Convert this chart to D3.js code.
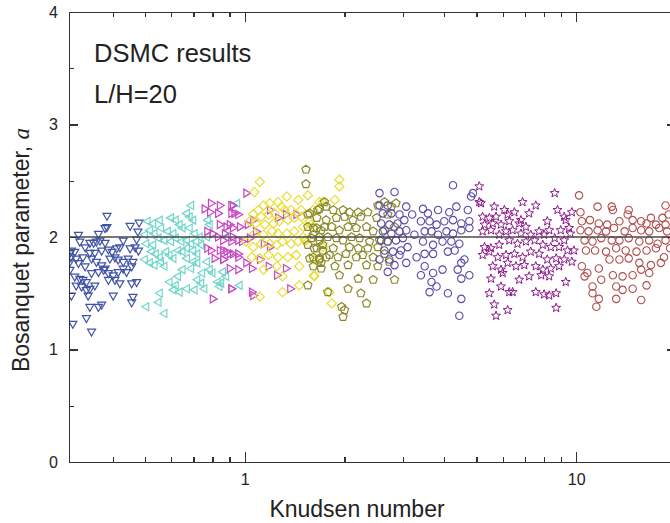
<!DOCTYPE html>
<html>
<head>
<script src="https://d3js.org/d3.v7.min.js"></script>
<style>
    body { margin: 0; background: #fff; }
    .axis path, .axis line { fill: none; stroke: #333; stroke-width: 1.3px; shape-rendering: crispEdges; }
    .axis text { font-family: "Liberation Sans", Arial, sans-serif; font-size: 16px; fill: #222; }
    .label { font-family: "Liberation Sans", Arial, sans-serif; fill: #222; }
</style>
</head>
<body>
<script>
// Knudsen number, Bosanquet parameter pairs
var triDown = [[0.384,2.19],[0.384,2.09],[0.379,2.08],[0.451,2.10],[0.48,2.13],[0.476,2.05],[0.315,2.02],[0.362,2.03],[0.318,1.96],[0.30,1.88],[0.297,1.86],[0.307,1.87],[0.33,1.91],[0.341,1.95],[0.35,1.95],[0.357,1.96],[0.366,1.97],[0.379,1.95],[0.43,1.97],[0.472,1.98],[0.299,1.82],[0.31,1.81],[0.325,1.82],[0.341,1.86],[0.353,1.86],[0.37,1.88],[0.388,1.89],[0.398,1.87],[0.411,1.90],[0.42,1.91],[0.451,1.90],[0.467,1.91],[0.478,1.88],[0.297,1.78],[0.315,1.77],[0.33,1.74],[0.345,1.81],[0.357,1.78],[0.37,1.75],[0.379,1.72],[0.392,1.81],[0.406,1.82],[0.415,1.80],[0.43,1.78],[0.445,1.81],[0.46,1.78],[0.297,1.71],[0.307,1.65],[0.318,1.63],[0.325,1.62],[0.333,1.60],[0.345,1.68],[0.362,1.69],[0.375,1.71],[0.388,1.68],[0.401,1.66],[0.415,1.69],[0.43,1.72],[0.44,1.69],[0.456,1.74],[0.31,1.57],[0.322,1.56],[0.333,1.53],[0.341,1.54],[0.353,1.57],[0.388,1.62],[0.406,1.62],[0.42,1.59],[0.456,1.59],[0.472,1.60],[0.30,1.48],[0.337,1.48],[0.401,1.48],[0.46,1.47],[0.456,1.42],[0.341,1.38],[0.362,1.38],[0.37,1.40],[0.333,1.28],[0.303,1.23],[0.345,1.16]];

var triLeft = [[0.69,2.28],[0.67,2.21],[0.683,2.18],[0.70,2.15],[0.62,2.15],[0.60,2.17],[0.555,2.15],[0.51,2.14],[0.53,2.12],[0.637,2.11],[0.65,2.08],[0.683,2.08],[0.56,2.08],[0.587,2.05],[0.61,2.03],[0.518,2.06],[0.535,2.03],[0.50,2.02],[0.707,2.03],[0.732,2.0],[0.77,2.0],[0.775,2.15],[0.785,2.11],[0.55,1.99],[0.573,1.97],[0.60,1.96],[0.62,1.99],[0.645,1.96],[0.67,1.97],[0.69,1.94],[0.715,1.96],[0.74,1.93],[0.505,1.94],[0.53,1.93],[0.524,1.87],[0.54,1.85],[0.555,1.82],[0.58,1.87],[0.594,1.84],[0.61,1.81],[0.63,1.88],[0.65,1.87],[0.67,1.90],[0.70,1.88],[0.72,1.85],[0.50,1.80],[0.518,1.77],[0.535,1.75],[0.56,1.78],[0.573,1.74],[0.67,1.81],[0.70,1.78],[0.72,1.77],[0.77,1.78],[0.785,1.71],[0.80,1.68],[0.86,1.69],[0.88,1.65],[0.65,1.71],[0.69,1.72],[0.63,1.65],[0.62,1.57],[0.637,1.51],[0.67,1.54],[0.707,1.53],[0.74,1.59],[0.756,1.54],[0.83,1.60],[0.84,1.56],[0.555,1.50],[0.55,1.42],[0.505,1.38],[0.573,1.32],[0.594,1.60],[0.61,1.53],[0.72,1.62],[0.745,1.68],[0.95,2.30],[0.88,2.0],[0.966,1.57],[0.85,1.59]];

var triRight = [[0.79,2.30],[0.84,2.28],[0.756,2.25],[0.785,2.22],[0.83,2.21],[0.91,2.28],[0.93,2.21],[0.77,2.05],[0.80,2.03],[0.84,2.11],[0.88,2.09],[0.92,2.08],[0.83,2.0],[0.86,1.97],[0.91,1.96],[0.77,1.90],[0.79,1.88],[0.84,1.88],[0.88,1.87],[0.92,1.85],[0.81,1.81],[0.86,1.80],[0.90,1.72],[0.955,1.85],[0.91,1.54],[0.80,1.45],[0.955,1.71],[0.955,1.97],[1.01,2.39],[0.92,2.28],[0.91,2.21],[0.955,2.20],[0.90,2.11],[0.966,2.09],[1.02,2.11],[1.06,2.15],[1.19,2.24],[1.26,2.17],[0.87,2.03],[0.92,2.0],[0.98,1.96],[1.035,1.99],[1.08,2.05],[1.14,1.94],[1.19,1.91],[1.33,2.20],[1.43,2.20],[0.86,1.88],[0.90,1.85],[0.955,1.82],[1.01,1.77],[1.05,1.72],[1.11,1.80],[1.18,1.74],[1.25,1.66],[1.33,1.72],[1.37,1.54],[0.91,1.54],[1.05,1.51],[1.06,1.48],[0.86,1.80]];

var diamonds = [[1.11,2.49],[1.07,2.40],[1.34,2.36],[1.45,2.33],[1.55,2.37],[1.68,2.31],[1.26,2.31],[1.29,2.27],[1.14,2.28],[1.19,2.30],[1.10,2.24],[1.06,2.20],[1.12,2.18],[1.18,2.20],[1.23,2.21],[1.32,2.24],[1.38,2.24],[1.48,2.24],[1.61,2.24],[1.035,2.14],[1.08,2.12],[1.15,2.11],[1.22,2.12],[1.27,2.14],[1.35,2.15],[1.41,2.17],[1.50,2.09],[1.59,2.11],[1.07,2.03],[1.14,2.02],[1.21,2.05],[1.26,2.03],[1.34,2.03],[1.41,2.05],[1.50,2.0],[1.01,1.96],[1.06,1.91],[1.12,1.94],[1.19,1.94],[1.25,1.93],[1.30,1.96],[1.38,1.94],[1.45,1.96],[1.53,1.97],[1.05,1.82],[1.11,1.81],[1.18,1.84],[1.26,1.82],[1.35,1.82],[1.43,1.84],[1.25,1.74],[1.46,1.74],[1.62,1.66],[1.68,1.80],[1.30,1.65],[1.46,1.57],[1.30,1.51],[1.11,1.47],[1.72,1.91],[1.14,1.71],[1.93,2.51],[1.93,2.45],[1.72,2.31],[1.87,2.33],[1.48,2.18],[1.57,2.14],[1.52,1.97],[1.62,1.80],[1.62,1.65],[1.83,1.41],[1.80,1.51]];

var pentagons = [[1.53,2.60],[1.53,2.47],[1.66,2.24],[1.76,2.27],[1.57,2.21],[1.55,2.09],[1.65,2.08],[1.74,2.09],[1.61,2.02],[1.68,2.0],[1.55,1.93],[1.65,1.90],[1.72,1.93],[1.57,1.81],[1.68,1.80],[1.76,1.82],[1.55,1.57],[1.70,1.77],[1.74,2.31],[1.68,2.25],[1.85,2.24],[1.98,2.24],[2.07,2.22],[2.20,2.22],[2.35,2.22],[1.55,2.20],[1.65,2.17],[1.76,2.15],[1.89,2.17],[2.0,2.18],[2.12,2.15],[2.24,2.18],[2.50,2.17],[2.70,2.20],[2.86,2.30],[2.77,2.27],[1.61,2.08],[1.70,2.06],[1.83,2.09],[1.93,2.06],[2.05,2.09],[2.17,2.08],[2.33,2.09],[2.44,2.05],[2.64,2.06],[2.83,2.09],[1.59,1.99],[1.68,1.97],[1.78,2.0],[1.89,1.99],[1.98,1.97],[2.10,2.0],[2.22,1.99],[2.38,1.96],[2.55,1.97],[2.70,1.96],[1.62,1.90],[1.72,1.88],[1.85,1.90],[2.07,1.91],[2.20,1.90],[2.35,1.90],[2.52,1.91],[1.61,1.82],[1.68,1.81],[1.80,1.84],[1.91,1.82],[2.02,1.85],[2.17,1.82],[2.27,1.84],[2.44,1.82],[2.64,1.85],[1.61,1.74],[1.70,1.72],[1.87,1.74],[2.05,1.75],[2.33,1.75],[2.52,1.74],[2.73,1.78],[1.93,1.66],[2.20,1.63],[2.44,1.62],[2.83,1.62],[1.78,1.51],[2.05,1.54],[2.24,1.50],[2.33,1.41],[1.96,1.38],[2.0,1.35],[1.98,1.29],[2.52,2.28],[2.64,2.31]];

var circlesBlue = [[2.55,2.39],[2.83,2.40],[2.55,2.28],[2.70,2.28],[2.93,2.20],[3.07,2.27],[2.61,2.21],[2.77,2.21],[2.58,2.12],[2.73,2.11],[2.89,2.12],[3.03,2.15],[2.61,2.05],[2.77,2.03],[2.93,2.05],[3.07,2.06],[2.58,1.97],[2.70,1.96],[2.86,1.97],[3.0,1.99],[2.64,1.88],[2.80,1.87],[2.96,1.88],[3.10,1.91],[2.55,1.80],[2.73,1.80],[2.93,1.84],[3.07,1.77],[2.70,1.69],[2.83,1.75],[4.25,2.46],[4.88,2.39],[4.82,2.36],[3.45,2.25],[3.57,2.21],[3.83,2.24],[4.14,2.22],[4.35,2.27],[4.71,2.24],[3.40,2.14],[3.61,2.14],[3.79,2.11],[4.0,2.14],[4.25,2.15],[4.50,2.12],[4.76,2.14],[3.49,2.05],[3.66,2.05],[3.83,2.02],[4.06,2.05],[4.25,2.03],[4.50,2.06],[4.76,2.08],[3.45,1.96],[3.70,1.93],[3.95,1.96],[4.20,1.96],[4.44,1.94],[3.49,1.85],[3.70,1.85],[4.10,1.87],[4.30,1.88],[4.60,1.80],[4.50,1.77],[3.49,1.74],[3.70,1.68],[3.95,1.71],[4.39,1.71],[4.76,1.66],[4.50,1.63],[3.66,1.60],[3.79,1.56],[3.61,1.51],[4.10,1.50],[4.50,1.45],[4.44,1.30],[3.40,1.66],[3.25,2.02],[3.30,1.82],[3.20,2.20]];

var stars = [[5.10,2.45],[5.10,2.31],[5.16,2.30],[5.66,2.27],[6.07,2.24],[6.89,2.31],[7.55,2.28],[8.61,2.39],[8.78,2.24],[9.2,2.18],[9.7,2.22],[5.22,2.18],[5.47,2.17],[5.73,2.18],[6.21,2.20],[6.51,2.22],[6.81,2.15],[7.21,2.21],[8.18,2.14],[9.3,2.15],[5.29,2.11],[5.60,2.12],[5.93,2.11],[6.28,2.14],[6.73,2.12],[7.05,2.09],[7.73,2.05],[8.29,2.06],[8.98,2.06],[9.52,2.08],[5.22,2.05],[5.53,2.06],[5.86,2.02],[6.14,2.05],[6.43,2.06],[6.81,2.03],[7.29,2.02],[8.0,2.02],[8.61,1.99],[9.2,1.97],[9.6,2.03],[5.29,1.91],[5.53,1.90],[5.86,1.93],[6.28,1.97],[6.65,1.94],[7.05,1.96],[7.49,1.97],[7.93,1.93],[8.38,1.91],[8.88,1.91],[9.41,1.88],[9.84,1.88],[5.22,1.84],[5.47,1.87],[5.80,1.82],[6.14,1.84],[6.51,1.85],[6.89,1.82],[7.29,1.87],[7.73,1.85],[8.18,1.80],[8.70,1.81],[9.2,1.80],[9.7,1.78],[5.60,1.74],[5.93,1.71],[6.21,1.77],[6.58,1.74],[6.97,1.75],[7.55,1.74],[7.93,1.71],[8.38,1.72],[8.88,1.74],[5.53,1.63],[6.0,1.68],[6.73,1.62],[7.21,1.65],[7.84,1.66],[8.29,1.65],[9.3,1.60],[5.93,1.56],[6.43,1.51],[5.47,1.50],[7.55,1.51],[8.0,1.49],[8.29,1.48],[8.70,1.50],[5.66,1.40],[6.21,1.35],[5.73,1.30],[8.70,1.37],[6.28,1.51]];

var circlesRed = [[10.2,2.37],[10.3,2.22],[11.6,2.27],[12.8,2.27],[12.9,2.24],[14.4,2.24],[14.3,2.20],[15.7,2.14],[16.8,2.17],[18.6,2.28],[18.2,2.17],[10.4,2.14],[11.0,2.15],[11.7,2.12],[12.4,2.11],[13.5,2.14],[14.8,2.15],[16.3,2.12],[17.4,2.11],[18.6,2.11],[10.3,2.06],[10.9,2.05],[11.6,2.06],[12.3,2.05],[13.0,2.08],[14.0,2.05],[14.8,2.08],[15.7,2.06],[16.6,2.05],[17.8,2.08],[18.8,2.05],[10.6,1.97],[11.2,1.96],[11.9,1.99],[12.8,1.97],[13.5,1.97],[14.4,1.99],[15.5,1.96],[16.6,1.97],[17.6,1.94],[18.6,1.97],[10.7,1.88],[11.4,1.88],[12.3,1.87],[13.2,1.90],[14.1,1.88],[15.2,1.87],[16.3,1.88],[17.4,1.90],[18.4,1.82],[10.4,1.74],[10.8,1.68],[11.7,1.72],[12.6,1.80],[13.5,1.80],[14.4,1.81],[15.5,1.77],[16.8,1.75],[18.0,1.77],[10.6,1.65],[11.2,1.56],[11.9,1.62],[12.9,1.66],[13.8,1.65],[14.8,1.66],[15.7,1.71],[16.6,1.68],[11.2,1.50],[13.2,1.56],[13.8,1.53],[14.8,1.54],[16.3,1.57],[11.7,1.45],[13.2,1.45],[11.5,1.38],[15.7,1.44],[19.0,2.20],[19.2,1.90]];

var xMajorTicks = [1, 10];
var xMinorTicks = [0.4,0.5,0.6,0.7,0.8,0.9,2,3,4,5,6,7,8,9];
var yMajorTicks = [0,1,2,3,4];
var yMinorTicks = [0.5,1.5,2.5,3.5];
var refLine = 2;

var w = 670, h = 523;
var padL = 69, padR = 676, padT = 12, padB = 462;

var xScale = d3.scaleLog().domain([0.295, 20]).range([padL, padR]);
var yScale = d3.scaleLinear().domain([0, 4]).range([padB, padT]);

var svg = d3.select('body').append('svg')
    .attr('width', w).attr('height', h);

svg.append('defs').append('clipPath').attr('id', 'plot')
    .append('rect').attr('x', padL).attr('y', padT)
    .attr('width', padR - padL).attr('height', padB - padT);

function polygon(n, r, start) {
    var p = d3.path();
    for (var i = 0; i < n; i++) {
        var t = start + i * 2 * Math.PI / n;
        if (i == 0) p.moveTo(r * Math.cos(t), r * Math.sin(t));
        else p.lineTo(r * Math.cos(t), r * Math.sin(t));
    }
    p.closePath();
    return p.toString();
}
function star(ro, ri) {
    var p = d3.path();
    for (var i = 0; i < 10; i++) {
        var r = i % 2 ? ri : ro;
        var t = -Math.PI / 2 + i * Math.PI / 5;
        if (i == 0) p.moveTo(r * Math.cos(t), r * Math.sin(t));
        else p.lineTo(r * Math.cos(t), r * Math.sin(t));
    }
    p.closePath();
    return p.toString();
}
var circlePath = d3.symbol(d3.symbolCircle, Math.PI * 3.7 * 3.7)();

var series = [
    { data: triDown, color: '#4052a6', shape: polygon(3, 4.6, Math.PI / 2), sw: 1.2 },
    { data: triLeft, color: '#74d6ca', shape: polygon(3, 4.6, Math.PI), sw: 1.2 },
    { data: triRight, color: '#c845c2', shape: polygon(3, 4.6, 0), sw: 1.2 },
    { data: diamonds, color: '#e8de34', shape: polygon(4, 4.6, -Math.PI / 2), sw: 1.2 },
    { data: pentagons, color: '#8c8a2a', shape: polygon(5, 4.3, -Math.PI / 2), sw: 1.2 },
    { data: circlesBlue, color: '#5a4aa8', shape: circlePath, sw: 1.1 },
    { data: stars, color: '#8b1a8a', shape: star(4.7, 2.0), sw: 1.0 },
    { data: circlesRed, color: '#b0504f', shape: circlePath, sw: 1.1 }
];

var plot = svg.append('g').attr('clip-path', 'url(#plot)');

series.forEach(function(s) {
    plot.append('g').selectAll('path')
        .data(s.data)
        .enter().append('path')
        .attr('d', s.shape)
        .attr('transform', function(d) { return 'translate(' + xScale(d[0]) + ',' + yScale(d[1]) + ')'; })
        .attr('fill', 'none')
        .attr('stroke', s.color)
        .attr('stroke-width', s.sw);
});

plot.append('line')
    .attr('x1', padL).attr('x2', padR)
    .attr('y1', yScale(refLine)).attr('y2', yScale(refLine))
    .attr('stroke', '#4a4a4a').attr('stroke-width', 1.6);

// axes, ticks pointing inward
function addAxis(gen, tr) {
    return svg.append('g').attr('class', 'axis').attr('transform', tr).call(gen);
}
addAxis(d3.axisBottom(xScale).tickValues(xMajorTicks).tickSize(-10).tickSizeOuter(0).tickPadding(12).tickFormat(d3.format('d')), 'translate(0,' + padB + ')');
addAxis(d3.axisBottom(xScale).tickValues(xMinorTicks).tickSize(-5).tickSizeOuter(0).tickFormat(''), 'translate(0,' + padB + ')');
addAxis(d3.axisTop(xScale).tickValues(xMajorTicks).tickSize(-10).tickSizeOuter(0).tickFormat(''), 'translate(0,' + padT + ')');
addAxis(d3.axisTop(xScale).tickValues(xMinorTicks).tickSize(-5).tickSizeOuter(0).tickFormat(''), 'translate(0,' + padT + ')');
addAxis(d3.axisLeft(yScale).tickValues(yMajorTicks).tickSize(-9).tickSizeOuter(0).tickPadding(11).tickFormat(d3.format('d')), 'translate(' + padL + ',0)');
addAxis(d3.axisLeft(yScale).tickValues(yMinorTicks).tickSize(-5).tickSizeOuter(0).tickFormat(''), 'translate(' + padL + ',0)');
addAxis(d3.axisRight(yScale).tickValues(yMajorTicks).tickSize(-9).tickSizeOuter(0).tickFormat(''), 'translate(' + padR + ',0)');
addAxis(d3.axisRight(yScale).tickValues(yMinorTicks).tickSize(-5).tickSizeOuter(0).tickFormat(''), 'translate(' + padR + ',0)');

svg.append('text').attr('class', 'label')
    .attr('x', 94).attr('y', 62).attr('font-size', 25.5)
    .text('DSMC results');
svg.append('text').attr('class', 'label')
    .attr('x', 94).attr('y', 103).attr('font-size', 25.5)
    .text('L/H=20');

svg.append('text').attr('class', 'label')
    .attr('x', 357).attr('y', 517).attr('font-size', 23)
    .attr('text-anchor', 'middle')
    .text('Knudsen number');

var yl = svg.append('text').attr('class', 'label')
    .attr('transform', 'translate(29,250) rotate(-90)')
    .attr('font-size', 23)
    .attr('text-anchor', 'middle');
yl.append('tspan').text('Bosanquet parameter, ');
yl.append('tspan').attr('font-family', '"Liberation Serif", "DejaVu Serif", serif')
    .attr('font-style', 'italic').text('a');
</script>
</body>
</html>
